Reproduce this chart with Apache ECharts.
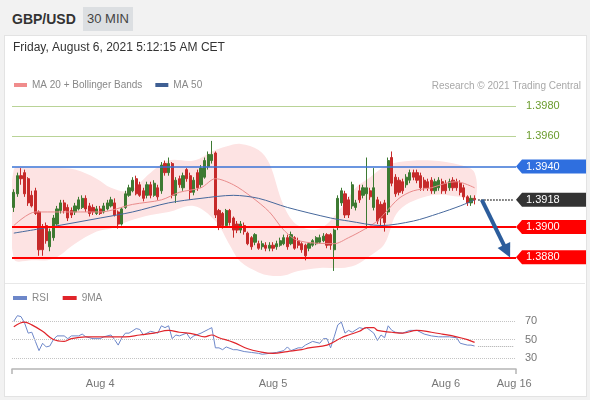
<!DOCTYPE html>
<html>
<head>
<meta charset="utf-8">
<script src="https://cdn.jsdelivr.net/npm/echarts@6/dist/echarts.min.js"></script>
<style>
body { margin: 0; background: #f2f2f2; font-family: 'Liberation Sans', Arial, sans-serif; }
.head { position: absolute; left: 12px; top: 8px; font-size: 14px; font-weight: bold; color: #333; line-height: 22px; }
.pill { position: absolute; left: 83px; top: 7px; width: 50px; height: 24px; line-height: 24px; text-align: center; background: #dcdfe2; color: #444; font-size: 13px; }
.card { position: absolute; left: 4px; top: 35px; width: 581px; height: 360px; background: #fff; border: 1px solid #e3e3e3; }
.sep { position: absolute; left: 5px; top: 283px; width: 580px; height: 1px; background: #e8e8e8; }
#chart { position: absolute; left: 0; top: 0; width: 590px; height: 400px; }
</style>
</head>
<body>
<div class="head">GBP/USD</div>
<div class="pill">30 MIN</div>
<div class="card"></div>
<div class="sep"></div>
<div id="chart"></div>
<script>
// 30 min candles
const opens = [
  1.3913,1.3922,1.3934,1.3936,1.3932,1.3921,1.3924,1.3910,1.3899,1.3901,
  1.3887,1.3893,1.3902,1.3911,1.3916,1.3913,1.3911,1.3910,1.3912,1.3913,
  1.3919,1.3914,1.3913,1.3909,1.3912,1.3910,1.3912,1.3914,1.3916,1.3910,
  1.3902,1.3913,1.3921,1.3924,1.3932,1.3928,1.3924,1.3921,1.3928,1.3921,
  1.3926,1.3924,1.3942,1.3936,1.3942,1.3921,1.3932,1.3926,1.3938,1.3934,
  1.3923,1.3936,1.3928,1.3933,1.3940,1.3944,1.3949,1.3911,1.3909,1.3901,
  1.3911,1.3906,1.3902,1.3898,1.3901,1.3896,1.3893,1.3890,1.3889,1.3887,
  1.3888,1.3886,1.3888,1.3887,1.3888,1.3889,1.3893,1.3889,1.3893,1.3891,
  1.3889,1.3888,1.3886,1.3888,1.3889,1.3890,1.3891,1.3895,1.3895,1.3885,
  1.3900,1.3916,1.3922,1.3918,1.3914,1.3913,1.3924,1.3921,1.3922,1.3924,
  1.3913,1.3918,1.3915,1.3916,1.3910,1.3946,1.3933,1.3931,1.3930,1.3928,
  1.3931,1.3936,1.3936,1.3934,1.3931,1.3930,1.3931,1.3924,1.3926,1.3930,
  1.3929,1.3926,1.3931,1.3930,1.3929,1.3926,1.3920,1.3916,1.3919
];
const closes = [
  1.3923,1.3934,1.3932,1.3922,1.3916,1.3914,1.3909,1.3885,1.3885,1.3891,
  1.3897,1.3906,1.3912,1.3916,1.3911,1.3906,1.3908,1.3914,1.3918,1.3919,
  1.3912,1.3909,1.3910,1.3912,1.3909,1.3914,1.3916,1.3918,1.3908,1.3902,
  1.3912,1.3922,1.3926,1.3931,1.3922,1.3921,1.3919,1.3928,1.3921,1.3929,
  1.3920,1.3941,1.3936,1.3942,1.3921,1.3931,1.3928,1.3934,1.3932,1.3923,
  1.3931,1.3926,1.3939,1.3944,1.3948,1.3948,1.3908,1.3900,1.3901,1.3911,
  1.3903,1.3898,1.3898,1.3902,1.3897,1.3889,1.3887,1.3895,1.3886,1.3889,
  1.3886,1.3888,1.3886,1.3889,1.3891,1.3893,1.3887,1.3895,1.3886,1.3888,
  1.3885,1.3881,1.3889,1.3891,1.3893,1.3893,1.3894,1.3888,1.3888,1.3898,
  1.3919,1.3924,1.3908,1.3908,1.3928,1.3916,1.3918,1.3926,1.3926,1.3920,
  1.3926,1.3904,1.3906,1.3903,1.3944,1.3929,1.3922,1.3923,1.3924,1.3933,
  1.3936,1.3933,1.3931,1.3926,1.3926,1.3926,1.3924,1.3930,1.3931,1.3924,
  1.3924,1.3930,1.3926,1.3926,1.3923,1.3920,1.3916,1.3919,1.3918
];
const lows = [
  1.3910,1.3920,1.3928,1.3920,1.3914,1.3913,1.3908,1.3881,1.3881,1.3889,
  1.3884,1.3891,1.3901,1.3909,1.3909,1.3904,1.3906,1.3908,1.3911,1.3912,
  1.3910,1.3907,1.3908,1.3908,1.3908,1.3909,1.3911,1.3913,1.3907,1.3899,
  1.3901,1.3912,1.3920,1.3923,1.3921,1.3920,1.3917,1.3919,1.3919,1.3920,
  1.3918,1.3922,1.3934,1.3934,1.3919,1.3916,1.3926,1.3924,1.3930,1.3918,
  1.3921,1.3924,1.3926,1.3932,1.3938,1.3942,1.3906,1.3898,1.3899,1.3900,
  1.3901,1.3893,1.3896,1.3896,1.3895,1.3888,1.3885,1.3888,1.3885,1.3885,
  1.3884,1.3884,1.3884,1.3885,1.3887,1.3888,1.3885,1.3888,1.3885,1.3886,
  1.3883,1.3878,1.3884,1.3887,1.3888,1.3889,1.3890,1.3886,1.3885,1.3871,
  1.3898,1.3914,1.3906,1.3906,1.3912,1.3911,1.3916,1.3919,1.3899,1.3918,
  1.3911,1.3902,1.3900,1.3897,1.3908,1.3927,1.3920,1.3921,1.3922,1.3926,
  1.3929,1.3931,1.3929,1.3924,1.3924,1.3924,1.3922,1.3922,1.3924,1.3922,
  1.3922,1.3924,1.3924,1.3924,1.3921,1.3918,1.3914,1.3914,1.3915
];
const highs = [
  1.3925,1.3936,1.3939,1.3938,1.3933,1.3924,1.3926,1.3911,1.3902,1.3903,
  1.3899,1.3908,1.3914,1.3918,1.3918,1.3915,1.3913,1.3916,1.3920,1.3921,
  1.3921,1.3916,1.3915,1.3914,1.3914,1.3916,1.3918,1.3920,1.3919,1.3911,
  1.3913,1.3924,1.3928,1.3933,1.3934,1.3930,1.3926,1.3930,1.3930,1.3931,
  1.3928,1.3943,1.3944,1.3946,1.3943,1.3933,1.3934,1.3936,1.3939,1.3936,
  1.3933,1.3938,1.3941,1.3946,1.3950,1.3957,1.3950,1.3912,1.3910,1.3912,
  1.3912,1.3907,1.3904,1.3904,1.3903,1.3897,1.3894,1.3896,1.3891,1.3891,
  1.3890,1.3890,1.3890,1.3891,1.3893,1.3895,1.3895,1.3897,1.3894,1.3893,
  1.3890,1.3889,1.3890,1.3892,1.3894,1.3895,1.3896,1.3896,1.3896,1.3899,
  1.3921,1.3926,1.3924,1.3920,1.3930,1.3918,1.3928,1.3928,1.3946,1.3926,
  1.3939,1.3920,1.3917,1.3918,1.3946,1.3950,1.3935,1.3933,1.3932,1.3935,
  1.3938,1.3938,1.3938,1.3936,1.3933,1.3932,1.3933,1.3932,1.3933,1.3932,
  1.3931,1.3932,1.3933,1.3932,1.3931,1.3928,1.3921,1.3921,1.3921
];

// overlays, sampled where read (candle index, value)
const ma20Idx = [0,6,13,24,33,41,46,52,56,61,66,71,75,79,89,93,97,101,103,107,111,116,120,123,128];
const ma20 = [1.3901,1.3910,1.3910,1.3910,1.3915,1.3918,1.3923,1.3926,1.3932,1.3928,1.3920,1.3910,1.3898,1.3891,1.3889,1.3893,1.3898,1.3904,1.3909,1.3919,1.3924,1.3926,1.3929,1.3930,1.3926];
const ma50Idx = [0,10,24,33,43,52,61,68,76,88,93,102,111,118,124,128];
const ma50 = [1.3896,1.3900,1.3906,1.3910,1.3916,1.3919,1.3921,1.3919,1.3913,1.3906,1.3904,1.3901,1.3904,1.3909,1.3914,1.3918];
const bandIdx = [0,5,11,17,23,27,32,38,43,50,56,60,63,68,71,75,79,85,91,95,99,103,107,116,124,128];
const bandUpper = [1.3938,1.3939,1.3939,1.3938,1.3932,1.3926,1.3924,1.3936,1.3944,1.3944,1.3951,1.3954,1.3955,1.3951,1.3942,1.3914,1.3901,1.3899,1.3913,1.3926,1.3933,1.3940,1.3943,1.3944,1.3941,1.3936];
const bandLower = [1.3879,1.3878,1.3879,1.3889,1.3897,1.3899,1.3904,1.3908,1.3910,1.3914,1.3904,1.3888,1.3877,1.3870,1.3868,1.3868,1.3871,1.3873,1.3873,1.3875,1.3881,1.3889,1.3911,1.3921,1.3920,1.3918];

const rsiIdx = [0,1,2,3,4,5,6,7,8,9,10,11,12,14,15,16,18,19,20,22,24,25,27,28,29,30,31,32,34,35,36,37,38,40,41,42,43,44,45,46,48,49,50,52,54,55,56,57,58,59,61,62,64,66,68,69,71,73,75,76,77,79,80,81,83,85,86,87,88,89,90,91,92,93,94,96,97,98,100,101,102,103,104,105,106,108,110,112,114,116,118,119,121,123,124,126,127,128];
const rsi = [70,76,75,68,57,58,48,38,46,42,43,50,54,54,51,54,54,56,53,51,51,53,55,50,44,52,57,57,62,61,55,57,59,57,65,63,65,51,55,54,57,51,54,57,61,63,41,41,39,42,39,39,37,36,35,34,35,36,38,42,38,41,41,44,48,46,51,51,41,53,66,69,57,60,58,63,62,63,57,49,55,52,65,60,58,57,60,60,56,54,53,53,53,52,46,44,44,43];
const maRsiIdx = [0,3,5,8,11,14,16,20,24,28,31,35,39,43,46,50,53,55,57,61,65,68,72,76,80,82,87,91,93,96,98,100,101,105,108,112,116,119,123,126,128];
const maRsi = [64,69,66,59,50,48,51,53,53,53,53,55,57,60,58,56,53,55,52,47,40,37,35,37,39,41,44,52,55,59,63,63,60,58,57,60,58,56,53,50,47];

// levels and labels
const resistances = [1.3980, 1.3960];
const pivot = 1.3940;
const lastPrice = 1.3918;
const supports = [1.3900, 1.3880];
const target = 1.3884;
const rsiLevels = [70, 50, 30];
const dayIdx = [24, 72, 120, 139];
const dayLabels = ['Aug 4', 'Aug 5', 'Aug 6', 'Aug 16'];
const slots = 140;

const font = "'Liberation Sans', Arial, sans-serif";
const cats = Array.from({ length: slots }, (_, i) => 'c' + i);
const candleData = opens.map((o, i) => [o, closes[i], lows[i], highs[i]]);
const pairs = (idx, vals) => idx.map((x, k) => [x, vals[k]]);
const lastIdx = opens.length - 1;

const chart = echarts.init(document.getElementById('chart'));

const priceLines = [];
resistances.forEach(v => priceLines.push({
  yAxis: v,
  lineStyle: { color: '#b9d396', width: 1, type: 'solid' },
  label: { show: true, position: 'end', distance: 10, color: '#6c9c2e', fontSize: 11, formatter: v.toFixed(4) }
}));
priceLines.push({ yAxis: pivot, lineStyle: { color: '#3a73d6', width: 1.5, type: 'solid' }, label: { show: false } });
supports.forEach(v => priceLines.push({
  yAxis: v, lineStyle: { color: '#ff0000', width: 2, type: 'solid' }, label: { show: false }
}));
priceLines.push([
  { coord: [lastIdx + 1, lastPrice], lineStyle: { color: '#333', width: 1.5, type: 'dotted' }, label: { show: false } },
  { coord: [slots - 1, lastPrice] }
]);
priceLines.push([
  { coord: [lastIdx + 2, lastPrice], symbol: 'none', lineStyle: { color: '#2c5d9c', width: 4, type: 'solid' }, label: { show: false } },
  { coord: [slots - 3, target], symbol: 'triangle', symbolSize: [14, 14] }
]);

chart.setOption({
  animation: false,
  textStyle: { fontFamily: font },
  grid: [
    { left: 12, right: 74, top: 91, height: 189 },
    { left: 12, right: 74, top: 312, height: 57 }
  ],
  xAxis: [
    { type: 'category', gridIndex: 0, data: cats, show: false },
    {
      type: 'category', gridIndex: 1, data: cats,
      axisLine: { lineStyle: { color: '#b5b5b5', width: 1.5 } },
      axisTick: { show: true, interval: (i) => i === 0, length: 5, lineStyle: { color: '#b5b5b5', width: 1.5 } },
      axisLabel: {
        interval: 0, color: '#777', fontSize: 11, margin: 9,
        formatter: (v, i) => { const k = dayIdx.indexOf(i); return k >= 0 ? dayLabels[k] : ''; }
      }
    }
  ],
  yAxis: [
    { type: 'value', gridIndex: 0, min: 1.3865, max: 1.3990, show: false },
    { type: 'value', gridIndex: 1, min: 18, max: 80, show: false }
  ],
  legend: [
    {
      left: 14, top: 80, padding: 0, icon: 'rect', itemWidth: 13, itemHeight: 4, itemGap: 13, selectedMode: false,
      textStyle: { color: '#888', fontSize: 10 },
      data: [
        { name: 'MA 20 + Bollinger Bands', itemStyle: { color: '#f08c8c' } },
        { name: 'MA 50', itemStyle: { color: '#3f5f93' } }
      ]
    },
    {
      left: 13, top: 293, padding: 0, icon: 'rect', itemWidth: 14, itemHeight: 4, itemGap: 14, selectedMode: false,
      textStyle: { color: '#888', fontSize: 10 },
      data: [
        { name: 'RSI', itemStyle: { color: '#6d87c9' } },
        { name: '9MA', itemStyle: { color: '#e0242a' } }
      ]
    }
  ],
  graphic: {
    elements: [
      {
        type: 'text', id: 'date', x: 13, y: 48, silent: true,
        style: { text: 'Friday, August 6, 2021 5:12:15 AM CET', fill: '#333', fontSize: 12, fontFamily: font, verticalAlign: 'middle', textVerticalAlign: 'middle' }
      },
      {
        type: 'text', id: 'credit', x: 581, y: 86, silent: true,
        style: { text: 'Research © 2021 Trading Central', fill: '#a8a8a8', fontSize: 10, fontFamily: font, align: 'right', textAlign: 'right', verticalAlign: 'middle', textVerticalAlign: 'middle' }
      }
    ]
  },
  series: [
    {
      type: 'custom', name: 'band', xAxisIndex: 0, yAxisIndex: 0, clip: true, z: 1, silent: true,
      data: [[0, bandUpper[0]]],
      renderItem: (params, api) => {
        const up = bandIdx.map((x, k) => api.coord([x, bandUpper[k]]));
        const lo = bandIdx.map((x, k) => api.coord([x, bandLower[k]])).reverse();
        return { type: 'polygon', shape: { points: up.concat(lo), smooth: 0.35 }, style: { fill: '#fde3e3' } };
      }
    },
    {
      type: 'candlestick', name: 'GBP/USD', xAxisIndex: 0, yAxisIndex: 0, z: 3,
      data: candleData, barWidth: '70%',
      itemStyle: { color: '#3d7a32', color0: '#c62a2a', borderColor: '#3d7a32', borderColor0: '#c62a2a', borderWidth: 1 },
      markLine: { silent: true, symbol: ['none', 'none'], precision: 4, data: priceLines }
    },
    {
      type: 'line', name: 'MA 20 + Bollinger Bands', xAxisIndex: 0, yAxisIndex: 0, z: 4,
      data: pairs(ma20Idx, ma20), smooth: 0.3, symbol: 'none',
      lineStyle: { color: '#e98b8b', width: 1 }, itemStyle: { color: '#f08c8c' }
    },
    {
      type: 'line', name: 'MA 50', xAxisIndex: 0, yAxisIndex: 0, z: 4,
      data: pairs(ma50Idx, ma50), smooth: 0.3, symbol: 'none',
      lineStyle: { color: '#46689c', width: 1 }, itemStyle: { color: '#3f5f93' }
    },
    {
      type: 'line', name: 'RSI', xAxisIndex: 1, yAxisIndex: 1, z: 4,
      data: pairs(rsiIdx, rsi), symbol: 'none',
      lineStyle: { color: '#6d87c9', width: 1 }, itemStyle: { color: '#6d87c9' },
      markLine: {
        silent: true, symbol: ['none', 'none'],
        data: rsiLevels.map(v => ({
          yAxis: v, lineStyle: { color: '#c4c4c4', width: 1, type: 'dotted' },
          label: { show: true, position: 'end', distance: 9, color: '#777', fontSize: 11, formatter: String(v) }
        })).concat([[
          { coord: [lastIdx + 1, rsi[rsi.length - 1]], lineStyle: { color: '#aaa', width: 1, type: 'dotted' }, label: { show: false } },
          { coord: [slots - 1, rsi[rsi.length - 1]] }
        ]])
      }
    },
    {
      type: 'line', name: '9MA', xAxisIndex: 1, yAxisIndex: 1, z: 5,
      data: pairs(maRsiIdx, maRsi), smooth: 0.4, symbol: 'none',
      lineStyle: { color: '#e0242a', width: 1.2 }, itemStyle: { color: '#e0242a' }
    }
  ]
});

// price tags on the right edge, placed through the price axis
const tagLevels = [pivot, lastPrice].concat(supports);
const tagFill = ['#2f6fdf', '#333333', '#ff0000', '#ff0000'];
const tagX = 516;
const tags = [];
tagLevels.forEach((v, k) => {
  const y = chart.convertToPixel({ yAxisIndex: 0 }, v);
  tags.push({
    type: 'polygon', id: 'tagbg' + k, z: 10, silent: true,
    shape: { points: [[tagX, y], [tagX + 6, y - 7], [586, y - 7], [586, y + 7], [tagX + 6, y + 7]] },
    style: { fill: tagFill[k] }
  });
  tags.push({
    type: 'text', id: 'tagtx' + k, z: 11, silent: true, x: tagX + 10, y: y,
    style: { text: v.toFixed(4), fill: '#fff', fontSize: 11, fontFamily: font, verticalAlign: 'middle', textVerticalAlign: 'middle' }
  });
});
chart.setOption({ graphic: { elements: tags } });
</script>
</body>
</html>
